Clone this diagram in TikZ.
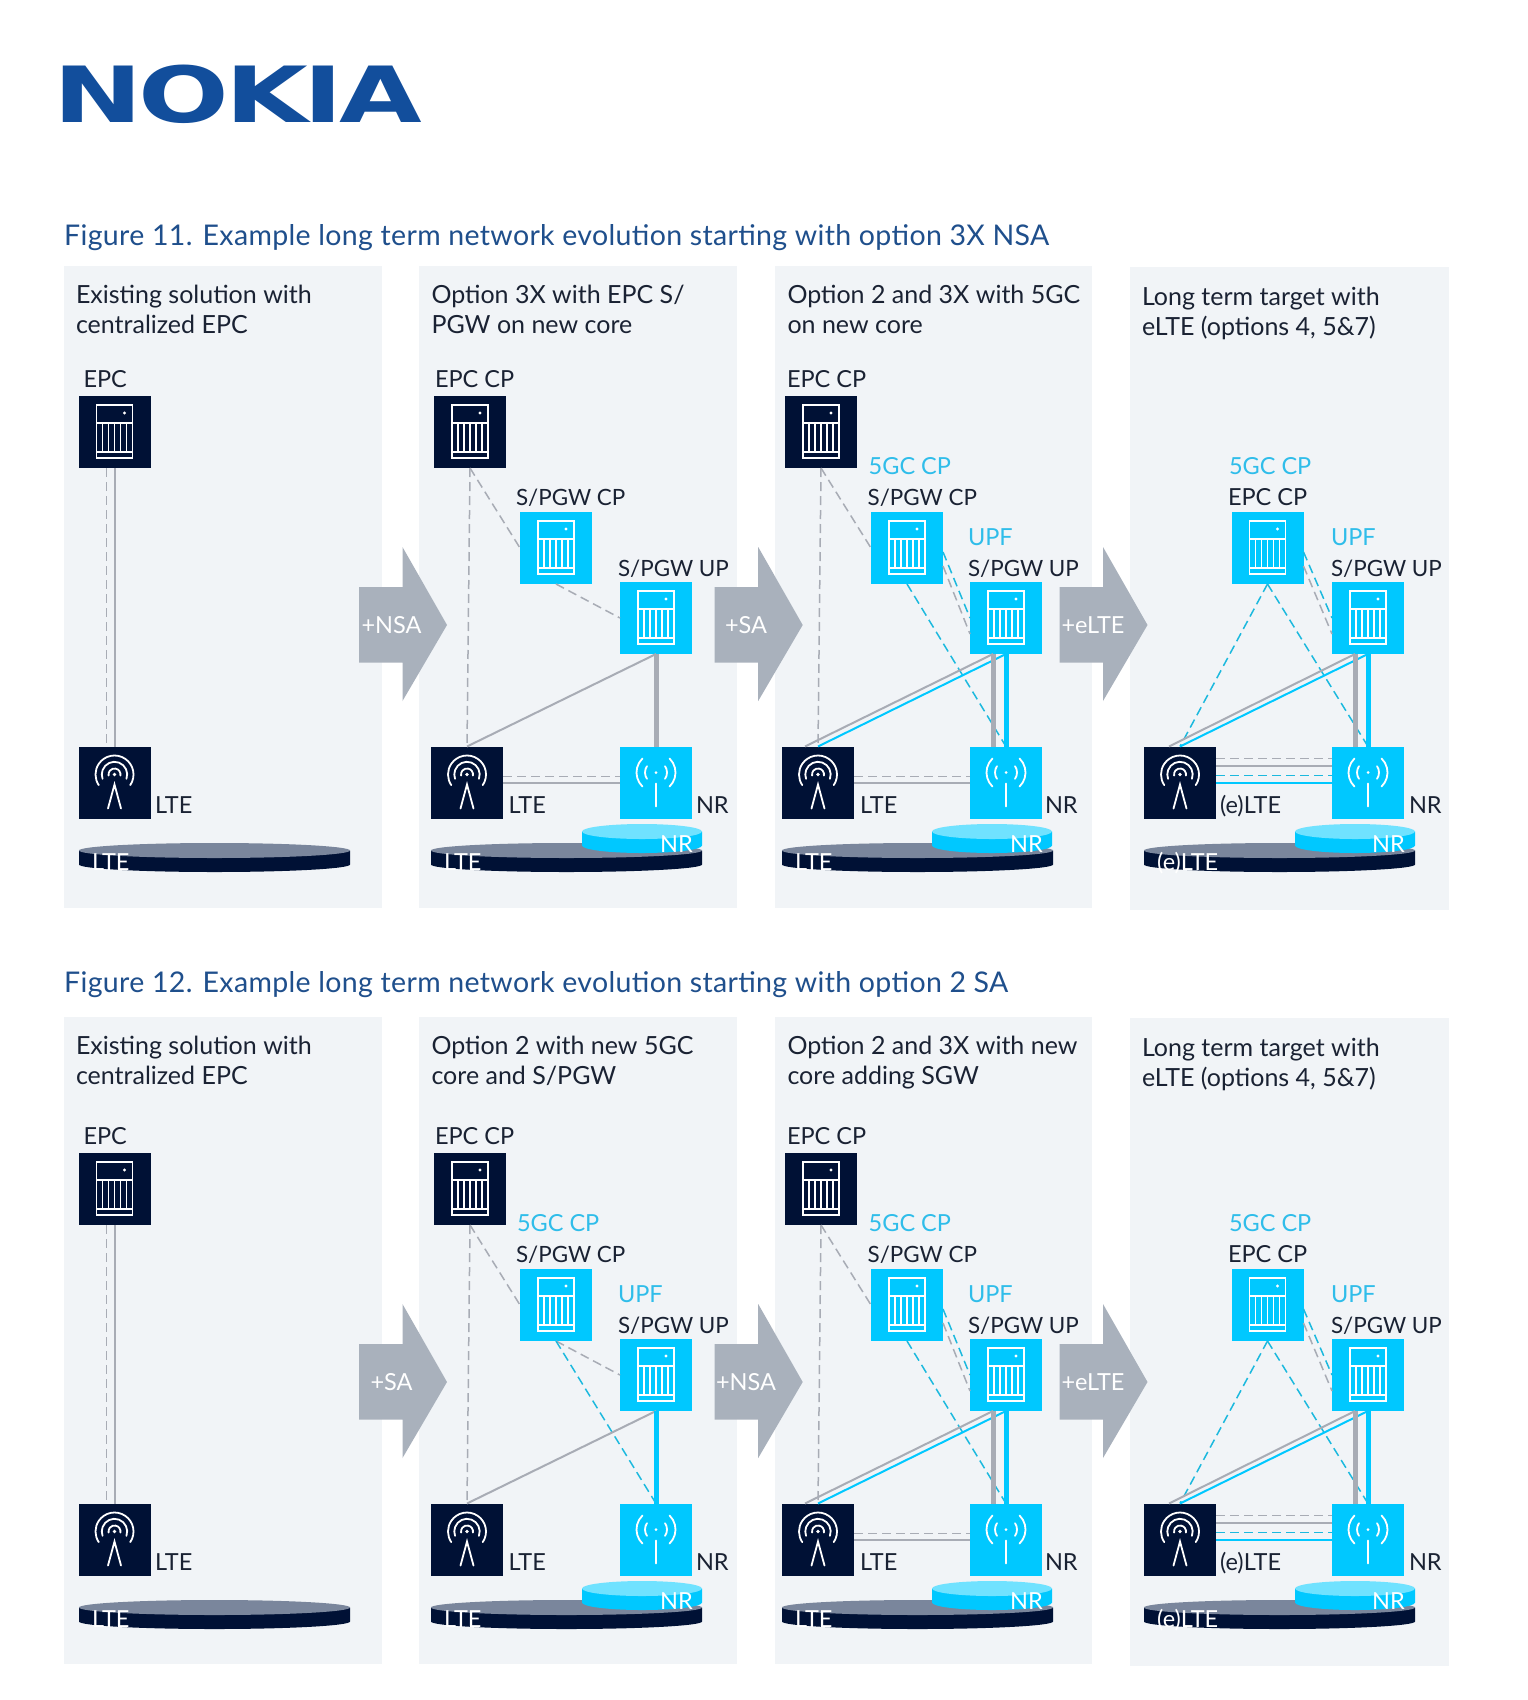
\documentclass[tikz,border=0pt]{standalone}
\usepackage{fontspec}
\usepackage{graphicx}
\setmainfont{Lato}
\newfontfamily\logofont[LetterSpace=-4]{DejaVu Sans}
\newfontfamily\titlefont[LetterSpace=1.2]{Lato}
\usepackage{tikz}
\usetikzlibrary{positioning}
\definecolor{navy}{HTML}{001135}
\definecolor{cyanbox}{HTML}{00C8FF}
\definecolor{cyanpale}{HTML}{70E2FF}
\definecolor{cyanlabel}{HTML}{2FBDEA}
\definecolor{cyanline}{HTML}{1CB9DE}
\definecolor{panelbg}{HTML}{F1F4F7}
\definecolor{greyarrow}{HTML}{A9B1BC}
\definecolor{greyline}{HTML}{A8ACB5}
\definecolor{disctop}{HTML}{7A869C}
\definecolor{nokiablue}{HTML}{124E9C}
\definecolor{titleblue}{HTML}{1F4F8C}
\definecolor{ink}{HTML}{1A2233}
\newcommand{\bodyfont}{\fontsize{23.5}{29.3}\selectfont}
\newcommand{\headfont}{\fontsize{25}{29.3}\selectfont}
\tikzset{
  srvicon/.pic={
    \draw[white,line width=1.5pt] (-18,-27) rectangle (18,26) (-18,-9)--(18,-9) (-18,20)--(18,20);
    \foreach \i in {-12,-6,0,6,12} \draw[white,line width=1.5pt] (\i,-9)--(\i,20);
    \fill[white] (10,-19) circle (1.6);
  },
  lteicon/.pic={
    \draw[white,line width=1.8pt,line cap=round] (0,-8)++(34:19) arc[start angle=34,end angle=-214,radius=19];
    \draw[white,line width=1.8pt,line cap=round] (0,-8)++(20:12.7) arc[start angle=20,end angle=-200,radius=12.7];
    \draw[white,line width=1.8pt,line cap=round] (0,-8)++(10:6) arc[start angle=10,end angle=-190,radius=6];
    \fill[white] (0,-8) circle (1.9);
    \draw[white,line width=1.8pt,line cap=round] (-6.5,26)--(0,2)--(6.5,26);
  },
  nricon/.pic={
    \draw[white,line width=1.8pt,line cap=round] (0,-10)++(46:19.5) arc[start angle=46,end angle=-46,radius=19.5];
    \draw[white,line width=1.8pt,line cap=round] (0,-10)++(134:19.5) arc[start angle=134,end angle=226,radius=19.5];
    \draw[white,line width=1.8pt,line cap=round] (0,-10)++(35:11) arc[start angle=35,end angle=-35,radius=11];
    \draw[white,line width=1.8pt,line cap=round] (0,-10)++(145:11) arc[start angle=145,end angle=215,radius=11];
    \fill[white] (0,-10) circle (1.5);
    \draw[white,line width=1.8pt,line cap=round] (0,1)--(0,24);
  },
  cell/.style={minimum width=72pt,minimum height=72pt,inner sep=0pt,outer sep=0pt},
  navycell/.style={cell,fill=navy},
  cyancell/.style={cell,fill=cyanbox},
  lab/.style={anchor=base west,inner sep=0pt,outer sep=0pt,text=ink,font=\bodyfont,yshift=1pt},
  gwlab/.style={lab,font=\fontsize{22.4}{29.3}\selectfont},
  cyanlab/.style={lab,text=cyanlabel},
  head/.style={anchor=north west,align=left,inner sep=0pt,outer sep=0pt,text=ink,font=\headfont},
  title/.style={anchor=base west,inner sep=0pt,text=titleblue,font=\titlefont\fontsize{28.5}{32}\selectfont},
  onarrow/.style={inner sep=0pt,text=white,font=\bodyfont},
  ondisc/.style={anchor=base west,inner sep=0pt,text=white,font=\bodyfont},
  gd/.style={draw=greyline,line width=1.5pt,dash pattern=on 9pt off 5pt},
  cd/.style={draw=cyanline,line width=1.5pt,dash pattern=on 9pt off 5pt},
  gs/.style={draw=greyline,line width=2pt},
  cs/.style={draw=cyanbox,line width=2pt},
  gt/.style={draw=greyline,line width=5pt},
  ct/.style={draw=cyanbox,line width=5pt}
}
% server and antenna cells
\newcommand{\srv}[4]{\node[#1] (#2) at (#3,#4) {}; \pic at (#2) {srvicon};}
\newcommand{\lte}[3]{\node[navycell] (#1) at (#2,#3) {}; \pic at (#1) {lteicon};}
\newcommand{\nr}[3]{\node[cyancell] (#1) at (#2,#3) {}; \pic at (#1) {nricon};}
% x left, x right, y top, colours
\newcommand{\disc}[5]{
  \fill[#5] (#1,#3) -- (#1,#3+14) arc[start angle=180,end angle=0,x radius={(#2-#1)/2},y radius=7.5] -- (#2,#3) -- cycle;
  \fill[#4] ({(#1+#2)/2},#3) ellipse[x radius={(#2-#1)/2},y radius=7.5];
}
\newcommand{\discs}[3]{% lte x, nr x, text
  \disc{#1}{#1+271}{850.5}{disctop}{navy}
  \node[ondisc] (#1-dt) at (#1+#3,870) {\ifnum#1=1144 (e)LTE\else LTE\fi};
}
\newcommand{\nrdisc}[2]{
  \disc{#1}{#1+120}{831.5}{cyanpale}{cyanbox}
  \node[ondisc] (#1-dn) at (#2,852) {NR};
}
\newcommand{\stage}[3]{% left x, text x, text
  \fill[greyarrow] (#1,587)--(#1+43.5,587)--(#1+43.5,547)--(#1+88,625)--(#1+43.5,701)--(#1+43.5,662.5)--(#1,662.5)--cycle;
  \node[onarrow] (#1-a) at (#2,625) {#3};
}
\newcommand{\colA}{
  \srv{navycell}{epc}{114.5}{432}
  \lte{lte}{114.5}{782.5}
  \draw[gd] ([xshift=-8pt]epc.south)--([xshift=-8pt]lte.north);
  \draw[gs] (epc.south)--(lte.north);
  \node[lab] (epct) at (83.5,388) {EPC};
  \node[lab] (ltet) at (155,814) {LTE};
  \discs{79}{0}{13}
}
\newcommand{\corelinks}{
  \draw[gd] (epc.south)--(lte.north);
  \draw[gd] (epc.south)--(cp.west);
}
\newcommand{\lanlinks}{
  \draw[gd] ([yshift=6pt]lte.east)--([yshift=6pt]nr.west);
  \draw[gs] (lte.east)--(nr.west);
}
\newcommand{\colC}{
  \srv{navycell}{epc}{821}{432}
  \srv{cyancell}{cp}{907}{548}
  \srv{cyancell}{up}{1006}{618}
  \lte{lte}{818}{782.5}
  \nr{nr}{1006}{782.5}
  \corelinks
  \draw[cd] (cp.south)--(nr.north);
  \draw[cd] ([yshift=-4pt]cp.east)--(up.west);
  \draw[gd] ([yshift=-18pt]cp.east)--([yshift=-16pt]up.west);
  \draw[gs] ([xshift=-13pt]up.south)--([xshift=-13pt]lte.north);
  \draw[cs] (up.south)--(lte.north);
  \draw[gt] ([xshift=-13pt]up.south)--([xshift=-13pt]nr.north);
  \draw[ct] (up.south)--(nr.north);
  \lanlinks
  \node[lab] (epct) at (787,388) {EPC CP};
  \node[cyanlab] (cpa) at (868.7,475) {5GC CP};
  \node[gwlab] (cpb) at (867.6,506) {S/PGW CP};
  \node[cyanlab] (upa) at (968,546.6) {UPF};
  \node[gwlab] (upb) at (968,577) {S/PGW UP};
  \node[lab] (ltet) at (860,814) {LTE};
  \node[lab] (nrt) at (1045,814) {NR};
  \discs{782}{0}{13}
  \nrdisc{932}{1010}
}
\newcommand{\colD}{
  \srv{cyancell}{cp}{1267.5}{548}
  \srv{cyancell}{up}{1368}{618}
  \lte{lte}{1180}{782.5}
  \nr{nr}{1368}{782.5}
  \draw[cd] (cp.south)--(lte.north);
  \draw[cd] (cp.south)--(nr.north);
  \draw[cd] ([yshift=-4pt]cp.east)--(up.west);
  \draw[gd] ([yshift=-18pt]cp.east)--([yshift=-16pt]up.west);
  \draw[gs] ([xshift=-13pt]up.south)--([xshift=-11pt]lte.north);
  \draw[cs] (up.south)--(lte.north);
  \draw[gt] ([xshift=-13pt]up.south)--([xshift=-13pt]nr.north);
  \draw[ct] (up.south)--(nr.north);
  \draw[gd] ([yshift=24pt]lte.east)--([yshift=24pt]nr.west);
  \draw[gs] ([yshift=17pt]lte.east)--([yshift=17pt]nr.west);
  \draw[cd] ([yshift=7pt]lte.east)--([yshift=7pt]nr.west);
  \draw[cs] (lte.east)--(nr.west);
  \node[cyanlab] (cpa) at (1229,475) {5GC CP};
  \node[lab] (cpb) at (1228,506) {EPC CP};
  \node[cyanlab] (upa) at (1331,546.6) {UPF};
  \node[gwlab] (upb) at (1331,577) {S/PGW UP};
  \node[lab] (ltet) at (1220,814) {(e)LTE};
  \node[lab] (nrt) at (1409,814) {NR};
  \discs{1144}{0}{13}
  \nrdisc{1295}{1372}
}
\begin{document}
\begin{tikzpicture}[x=1pt,y=-1pt]
  \useasboundingbox (0,0) rectangle (1528,1700);
  \fill[white] (0,0) rectangle (1528,1700);
  \node[anchor=north west,inner sep=0pt,text=nokiablue] (logo) at (53.5,65) {\resizebox{368pt}{57.5pt}{\logofont\bfseries NOKIA}};
  \node[title] (fig11) at (64,245) {Figure 11. Example long term network evolution starting with option 3X NSA};
  \node[title] (fig12) at (64,992) {Figure 12. Example long term network evolution starting with option 2 SA};
  % panels
  \foreach \xa/\xb in {64/382,419/737,775/1092} {
    \fill[panelbg] (\xa,266) rectangle (\xb,908);
    \fill[panelbg] (\xa,1017) rectangle (\xb,1664);
  }
  \fill[panelbg] (1130,267) rectangle (1449,910);
  \fill[panelbg] (1130,1018) rectangle (1449,1666);
  % headings, top row
  \node[head] (h1) at (76,285.5) {Existing solution with\\centralized EPC};
  \node[head] (h2) at (431.5,285.5) {Option 3X with EPC S/\\PGW on new core};
  \node[head] (h3) at (787.5,285.5) {Option 2 and 3X with 5GC\\on new core};
  \node[head] (h4) at (1142,287.5) {Long term target with\\eLTE (options 4, 5\&7)};
  % headings, bottom row
  \node[head] (h5) at (76,1036.5) {Existing solution with\\centralized EPC};
  \node[head] (h6) at (431.5,1036.5) {Option 2 with new 5GC\\core and S/PGW};
  \node[head] (h7) at (787.5,1036.5) {Option 2 and 3X with new\\core adding SGW};
  \node[head] (h8) at (1142,1038.5) {Long term target with\\eLTE (options 4, 5\&7)};
  % top row
  \begin{scope}[name prefix=a1-] \colA \end{scope}
  \begin{scope}[name prefix=a2-]
    \srv{navycell}{epc}{470}{432}
    \srv{cyancell}{cp}{556}{548}
    \srv{cyancell}{up}{656}{618}
    \lte{lte}{467}{782.5}
    \nr{nr}{656}{782.5}
    \corelinks
    \draw[gd] (cp.south)--(up.west);
    \draw[gs] (up.south)--(lte.north);
    \draw[gt] (up.south)--(nr.north);
    \lanlinks
    \node[lab] (epct) at (435,388) {EPC CP};
    \node[gwlab] (cpb) at (516,506) {S/PGW CP};
    \node[gwlab] (upb) at (618,577) {S/PGW UP};
    \node[lab] (ltet) at (508.6,814) {LTE};
    \node[lab] (nrt) at (696,814) {NR};
    \discs{431}{0}{13}
    \nrdisc{582}{660}
  \end{scope}
  \begin{scope}[name prefix=a3-] \colC \end{scope}
  \begin{scope}[name prefix=a4-] \colD \end{scope}
  \stage{359}{391.5}{+NSA}
  \stage{714.7}{746}{+SA}
  \stage{1059.5}{1093}{+eLTE}
  % bottom row
  \begin{scope}[shift={(0,757)}]
    \begin{scope}[name prefix=b1-] \colA \end{scope}
    \begin{scope}[name prefix=b2-]
      \srv{navycell}{epc}{470}{432}
      \srv{cyancell}{cp}{556}{548}
      \srv{cyancell}{up}{656}{618}
      \lte{lte}{467}{782.5}
      \nr{nr}{656}{782.5}
      \corelinks
      \draw[gd] (cp.south)--(up.west);
      \draw[cd] (cp.south)--(nr.north);
      \draw[gs] (up.south)--(lte.north);
      \draw[ct] (up.south)--(nr.north);
      \node[lab] (epct) at (435,388) {EPC CP};
      \node[cyanlab] (cpa) at (517,475) {5GC CP};
      \node[gwlab] (cpb) at (516,506) {S/PGW CP};
      \node[cyanlab] (upa) at (618,546.6) {UPF};
      \node[gwlab] (upb) at (618,577) {S/PGW UP};
      \node[lab] (ltet) at (508.6,814) {LTE};
      \node[lab] (nrt) at (696,814) {NR};
      \discs{431}{0}{13}
      \nrdisc{582}{660}
    \end{scope}
    \begin{scope}[name prefix=b3-] \colC \end{scope}
    \begin{scope}[name prefix=b4-] \colD \end{scope}
    \stage{359}{391.5}{+SA}
    \stage{714.7}{746}{+NSA}
    \stage{1059.5}{1093}{+eLTE}
  \end{scope}
\end{tikzpicture}
\end{document}
